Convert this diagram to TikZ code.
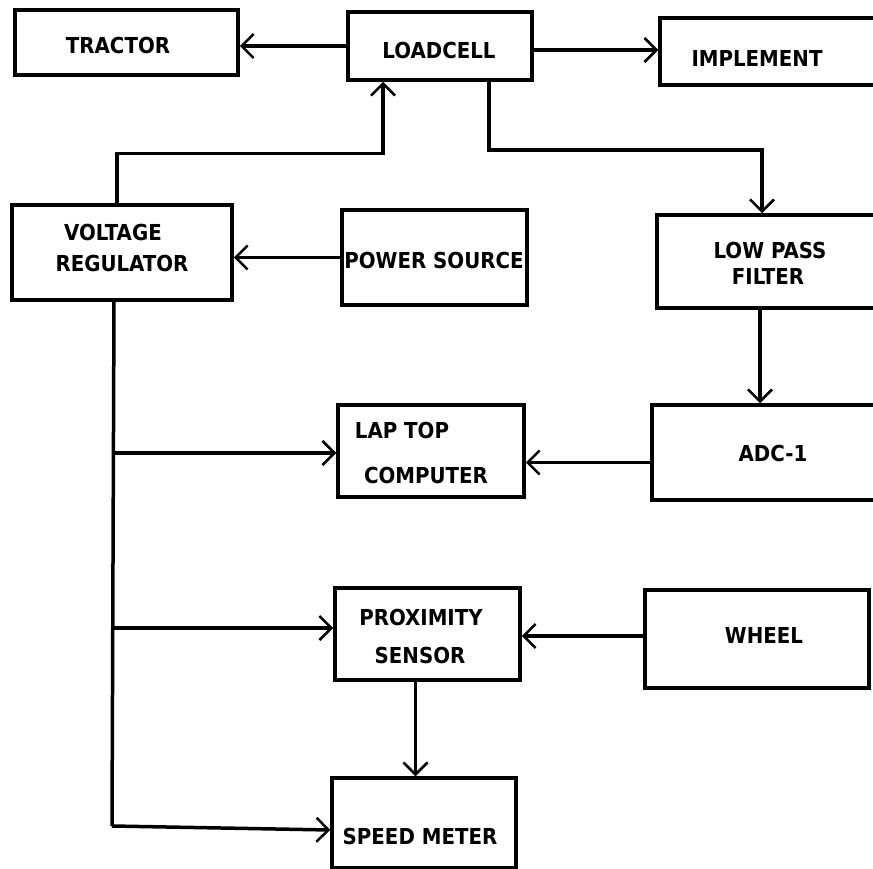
\documentclass[tikz,border=0pt]{standalone}
\usepackage{fontspec}
\newfontfamily\lblfont{DejaVu Sans Condensed Bold}
\usetikzlibrary{arrows.meta,calc}
\begin{document}
\begin{tikzpicture}[x=1pt,y=-1pt,
  box/.style={draw,line width=3.5pt,inner sep=0pt},
  lbl/.style={font=\lblfont\fontsize{22}{22}\selectfont,inner sep=0pt,align=center},
  conn/.style={line width=3.5pt},
  arr/.style={line width=3.5pt,-{Straight Barb[length=12pt,width=24pt,line width=2.5pt]}}]
\useasboundingbox[fill=white] (0,0) rectangle (873,869);
% boxes
\node[box,minimum width=223pt,minimum height=65pt] (tractor) at (126.5,42.5) {};
\node[box,minimum width=184pt,minimum height=68pt] (loadcell) at (440,46) {};
\node[box,minimum width=220pt,minimum height=67pt] (implement) at (770,51.5) {};
\node[box,minimum width=220pt,minimum height=95pt] (vr) at (122,252.5) {};
\node[box,minimum width=185pt,minimum height=95pt] (power) at (434.5,257.5) {};
\node[box,minimum width=218pt,minimum height=93pt] (lpf) at (766,261.5) {};
\node[box,minimum width=186pt,minimum height=92pt] (laptop) at (431,451) {};
\node[box,minimum width=223pt,minimum height=95pt] (adc) at (763.5,452.5) {};
\node[box,minimum width=185pt,minimum height=92pt] (prox) at (427.5,634) {};
\node[box,minimum width=224pt,minimum height=98pt] (wheel) at (757,639) {};
\node[box,minimum width=184pt,minimum height=90pt] (speed) at (424,823) {};
% labels
\node[lbl] (t-tractor) at (118,45) {TRACTOR};
\node[lbl] (t-loadcell) at (439,50) {LOADCELL};
\node[lbl] (t-implement) at (757,58) {IMPLEMENT};
\node[lbl] (t-vr1) at (113,232) {VOLTAGE};
\node[lbl] (t-vr2) at (122,263) {REGULATOR};
\node[lbl] (t-power) at (434,260) {POWER SOURCE};
\node[lbl] (t-lpf1) at (770,250) {LOW PASS};
\node[lbl] (t-lpf2) at (768,276) {FILTER};
\node[lbl] (t-lap1) at (402,430) {LAP TOP};
\node[lbl] (t-lap2) at (426,475) {COMPUTER};
\node[lbl] (t-adc) at (773,453) {ADC-1};
\node[lbl] (t-prox1) at (421,617) {PROXIMITY};
\node[lbl] (t-prox2) at (420,655) {SENSOR};
\node[lbl] (t-wheel) at (764,635) {WHEEL};
\node[lbl] (t-speed) at (420,836) {SPEED METER};
% trunk coordinates
\coordinate (ttop) at (114,300);
\coordinate (t1) at (113.5,453);
\coordinate (t2) at (113,628);
\coordinate (t3) at (112,826);
% connectors
\draw[arr] (loadcell.west) -- (loadcell.west -| tractor.east);
\draw[arr] ($(loadcell.east)+(0,4)$) -- ($(loadcell.east -| implement.west)+(0,4)$);
\draw[arr] ($(vr.north)+(-5,0)$) |- ($(loadcell.south)+(-57,72)$) -- ($(loadcell.south)+(-57,0)$);
\draw[arr] ($(loadcell.south)+(49,0)$) |- ($(lpf.north)+(-4,-63)$) -- ($(lpf.north)+(-4,0)$);
\draw[arr] (power.west) -- (power.west -| vr.east);
\draw[arr] ($(lpf.south)+(-6,0)$) -- ($(lpf.south |- adc.north)+(-6,0)$);
\draw[arr] ($(adc.west)+(0,10)$) -- ($(adc.west -| laptop.east)+(0,10)$);
\draw[conn] (ttop) -- (t3);
\draw[arr] (t1) -- (t1 -| laptop.west);
\draw[arr] (t2) -- (t2 -| prox.west);
\draw[arr] (t3) -- ($(t3 -| speed.west)+(0,4)$);
\draw[arr] ($(wheel.west)+(0,-3)$) -- ($(wheel.west -| prox.east)+(0,-3)$);
\draw[arr] ($(prox.south)+(-12,0)$) -- ($(prox.south |- speed.north)+(-12,0)$);
\end{tikzpicture}
\end{document}
